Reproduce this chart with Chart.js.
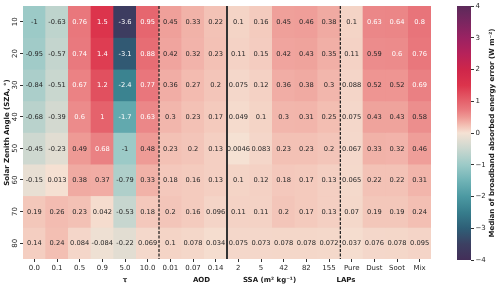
<!DOCTYPE html>
<html><head><meta charset="utf-8">
<script src="https://cdn.jsdelivr.net/npm/chart.js@4/dist/chart.umd.min.js"></script>
<style>
html,body{margin:0;padding:0;background:#fff;}
#wrap{position:relative;width:500px;height:288px;background:#fff;}
#main{position:absolute;left:0;top:0;}
#cbar{position:absolute;left:440px;top:0;}
</style></head><body>
<div id="wrap"><canvas id="main" width="440" height="288"></canvas><canvas id="cbar" width="60" height="288"></canvas></div>
<script>
// ---- data ----
const szaLabels = ['10','20','30','40','50','60','70','80'];
const tauLabels = ['0.0','0.1','0.5','0.9','5.0','10.0'];
const aodLabels = ['0.01','0.07','0.14'];
const ssaLabels = ['2','5','42','82','155'];
const lapLabels = ['Pure','Dust','Soot','Mix'];
const groupTitles = ['τ','AOD','SSA (m² kg⁻¹)','LAPs'];

const tauValues = [
  [-1, -0.63, 0.76, 1.5, -3.6, 0.95],
  [-0.95, -0.57, 0.74, 1.4, -3.1, 0.88],
  [-0.84, -0.51, 0.67, 1.2, -2.4, 0.77],
  [-0.68, -0.39, 0.6, 1, -1.7, 0.63],
  [-0.45, -0.23, 0.49, 0.68, -1, 0.48],
  [-0.15, 0.013, 0.38, 0.37, -0.79, 0.33],
  [0.19, 0.26, 0.23, 0.042, -0.53, 0.18],
  [0.14, 0.24, 0.084, -0.084, -0.22, 0.069]
];
const aodValues = [
  [0.45, 0.33, 0.22],
  [0.42, 0.32, 0.23],
  [0.36, 0.27, 0.2],
  [0.3, 0.23, 0.17],
  [0.23, 0.2, 0.13],
  [0.18, 0.16, 0.13],
  [0.2, 0.16, 0.096],
  [0.1, 0.078, 0.034]
];
const ssaValues = [
  [0.1, 0.16, 0.45, 0.46, 0.38],
  [0.11, 0.15, 0.42, 0.43, 0.35],
  [0.075, 0.12, 0.36, 0.38, 0.3],
  [0.049, 0.1, 0.3, 0.31, 0.25],
  [0.0046, 0.083, 0.23, 0.23, 0.2],
  [0.1, 0.12, 0.18, 0.17, 0.13],
  [0.11, 0.11, 0.2, 0.17, 0.13],
  [0.075, 0.073, 0.078, 0.078, 0.072]
];
const lapValues = [
  [0.1, 0.63, 0.64, 0.8],
  [0.11, 0.59, 0.6, 0.76],
  [0.088, 0.52, 0.52, 0.69],
  [0.075, 0.43, 0.43, 0.58],
  [0.067, 0.33, 0.32, 0.46],
  [0.065, 0.22, 0.22, 0.31],
  [0.07, 0.19, 0.19, 0.24],
  [0.037, 0.076, 0.078, 0.095]
];
const colorbarTicks = [4, 3, 2, 1, 0, -1, -2, -3, -4];

// ---- colormap (style) ----
const cmapStops = [
  [-4, [67, 46, 88]], [-3.5, [60, 64, 98]], [-3, [46, 95, 119]], [-2.5, [55, 125, 140]],
  [-2, [76, 153, 162]], [-1.5, [112, 179, 182]], [-1, [156, 202, 199]], [-0.5, [202, 215, 207]],
  [0, [245, 226, 212]], [0.25, [243, 190, 178]], [0.5, [238, 152, 148]], [0.75, [233, 120, 125]],
  [1, [229, 98, 108]], [1.5, [220, 52, 76]], [2, [206, 38, 74]], [2.5, [182, 34, 90]],
  [3, [154, 34, 98]], [3.5, [122, 38, 96]], [4, [92, 42, 90]]
];
function cmap(v){
  if (v <= cmapStops[0][0]) return cmapStops[0][1];
  for (let i = 1; i < cmapStops.length; i++){
    const [v1, c1] = cmapStops[i];
    if (v <= v1){
      const [v0, c0] = cmapStops[i-1];
      const t = (v - v0) / (v1 - v0);
      return c0.map((c, k) => Math.round(c + (c1[k] - c) * t));
    }
  }
  return cmapStops[cmapStops.length-1][1];
}
const rgb = c => `rgb(${c[0]},${c[1]},${c[2]})`;
const textColor = v => (v >= 0.595 || v <= -1.2) ? '#ffffff' : '#262626';

const colLabels = [...tauLabels, ...aodLabels, ...ssaLabels, ...lapLabels];
const groupSizes = [tauLabels.length, aodLabels.length, ssaLabels.length, lapLabels.length];
const rows = szaLabels.map((s, r) => [...tauValues[r], ...aodValues[r], ...ssaValues[r], ...lapValues[r]]);

Chart.defaults.font.family = '"DejaVu Sans", sans-serif';
Chart.defaults.color = '#262626';

const groupCenters = [];
const boundaries = [];
{ let start = 0; groupSizes.forEach((n, i) => { groupCenters.push(start + n/2); start += n; if (i < groupSizes.length-1) boundaries.push(start); }); }
const boundaryStyles = [{dash:[3,1.5], w:1.2}, {dash:[], w:2}, {dash:[3,1.5], w:1.2}];

const cellPlugin = {
  id: 'cells',
  afterDatasetsDraw(chart){
    const ctx = chart.ctx;
    const a = chart.chartArea;
    const xs = chart.scales.x;
    ctx.save();
    ctx.font = '6.7px "DejaVu Sans"';
    ctx.textAlign = 'center';
    ctx.textBaseline = 'middle';
    chart.data.datasets.forEach((ds, r) => {
      chart.getDatasetMeta(r).data.forEach((el, c) => {
        const v = ds.values[c];
        ctx.fillStyle = textColor(v);
        ctx.fillText(String(v), el.x, (el.y + el.base) / 2 + 0.5);
      });
    });
    boundaries.forEach((b, i) => {
      const px = (xs.getPixelForValue(b - 1) + xs.getPixelForValue(b)) / 2;
      ctx.beginPath();
      ctx.setLineDash(boundaryStyles[i].dash);
      ctx.lineWidth = boundaryStyles[i].w;
      ctx.strokeStyle = i === 1 ? '#333' : '#1a1a1a';
      ctx.moveTo(px, a.top);
      ctx.lineTo(px, a.bottom);
      ctx.stroke();
    });
    ctx.restore();
  }
};

new Chart(document.getElementById('main'), {
  type: 'bar',
  data: {
    labels: colLabels,
    datasets: rows.map((vals, r) => ({
      label: szaLabels[r],
      values: vals,
      data: vals.map(() => 1),
      backgroundColor: vals.map(v => rgb(cmap(v))),
      borderWidth: 0,
      barPercentage: 1,
      categoryPercentage: 1
    }))
  },
  options: {
    responsive: false,
    devicePixelRatio: 1,
    animation: false,
    layout: { padding: { top: 6, right: 9, left: 0, bottom: 0 } },
    plugins: { legend: { display: false }, tooltip: { enabled: false } },
    scales: {
      x: {
        type: 'category',
        stacked: true,
        position: 'bottom',
        weight: 0,
        grid: { display: true, drawOnChartArea: false, offset: false, tickLength: 3, color: '#333' },
        border: { display: false },
        ticks: { autoSkip: false, maxRotation: 0, minRotation: 0, padding: 2, font: { size: 7 }, color: '#262626' },
        afterFit(s){ s.height = 14; }
      },
      xg: {
        type: 'linear',
        position: 'bottom',
        weight: 1,
        min: 0, max: colLabels.length,
        grid: { display: false, drawTicks: false },
        border: { display: false },
        afterBuildTicks(s){ s.ticks = groupCenters.map(v => ({ value: v })); },
        ticks: { autoSkip: false, maxRotation: 0, padding: 3, font: { size: 7, weight: 'bold' }, color: '#1a1a1a',
          callback: (v, i) => groupTitles[i] },
        afterFit(s){ s.height = 15; }
      },
      y: {
        type: 'linear',
        stacked: true,
        reverse: true,
        min: 0, max: szaLabels.length,
        grid: { display: true, drawOnChartArea: false, tickLength: 3, color: '#333' },
        border: { display: false },
        afterBuildTicks(s){ s.ticks = szaLabels.map((l, i) => ({ value: i + 0.5 })); },
        ticks: { autoSkip: false, minRotation: 90, maxRotation: 90, crossAlign: 'center', padding: 0.5,
          font: { size: 7 }, color: '#262626', callback: (v, i) => szaLabels[i] },
        title: { display: true, text: 'Solar Zenith Angle (SZA, °)', font: { size: 7, weight: 'bold' }, color: '#1a1a1a', padding: { top: 2.5, bottom: 0 } },
        afterFit(s){ s.width = 23; }
      }
    }
  },
  plugins: [cellPlugin]
});

// ---- colorbar ----
const cbTitlePlugin = {
  id: 'cbTitle',
  afterDraw(chart){
    const ctx = chart.ctx;
    const a = chart.chartArea;
    ctx.save();
    ctx.translate(52, (a.top + a.bottom) / 2);
    ctx.rotate(-Math.PI / 2);
    ctx.font = 'bold 7px "DejaVu Sans"';
    ctx.fillStyle = '#1a1a1a';
    ctx.textAlign = 'center';
    ctx.textBaseline = 'middle';
    ctx.fillText('Median of broadband absorbed energy error (W m⁻²)', 0, 0);
    ctx.restore();
  }
};

new Chart(document.getElementById('cbar'), {
  type: 'bar',
  data: {
    labels: [''],
    datasets: [{
      data: [[colorbarTicks[colorbarTicks.length-1], colorbarTicks[0]]],
      borderWidth: 0,
      barPercentage: 1,
      categoryPercentage: 1,
      inflateAmount: 0,
      backgroundColor(ctx){
        const chart = ctx.chart;
        if (!chart.chartArea) return '#ccc';
        const ys = chart.scales.y;
        const g = chart.ctx.createLinearGradient(0, ys.getPixelForValue(-4), 0, ys.getPixelForValue(4));
        cmapStops.forEach(s => g.addColorStop((s[0] + 4) / 8, rgb(s[1])));
        return g;
      }
    }]
  },
  options: {
    responsive: false,
    devicePixelRatio: 1,
    animation: false,
    layout: { padding: { top: 6, left: 17, bottom: 28, right: 0 } },
    plugins: { legend: { display: false }, tooltip: { enabled: false } },
    scales: {
      x: { display: false },
      y: {
        position: 'right',
        min: -4, max: 4,
        grid: { display: true, drawOnChartArea: false, tickLength: 3, color: '#333' },
        border: { display: false },
        afterBuildTicks(s){ s.ticks = colorbarTicks.map(v => ({ value: v })); },
        ticks: { padding: 1.5, font: { size: 7 }, color: '#262626',
          callback: v => v < 0 ? '\u2212' + Math.abs(v) : String(v) },
        afterFit(s){ s.width = 29; }
      }
    }
  },
  plugins: [cbTitlePlugin]
});
</script>
</body></html>
